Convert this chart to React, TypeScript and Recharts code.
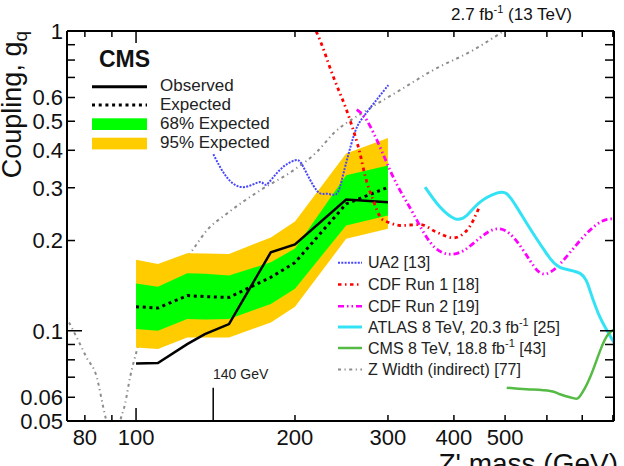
import React from "react";
import {
  ComposedChart,
  Area,
  Line,
  XAxis,
  YAxis,
  ReferenceLine,
} from "recharts";

// ---------------- data ----------------
const MASS = [100, 110, 125, 135, 150, 180, 200, 250, 300];
const OBSERVED = [0.0777, 0.0781, 0.0902, 0.0975, 0.1053, 0.1828, 0.194, 0.274, 0.2686];
const EXPECTED = [0.1203, 0.1191, 0.131, 0.13, 0.1292, 0.1508, 0.1688, 0.265, 0.301];
const BAND68_LO = [0.1013, 0.1, 0.1094, 0.109, 0.1094, 0.1229, 0.1382, 0.2245, 0.2424];
const BAND68_HI = [0.1439, 0.1403, 0.1554, 0.155, 0.1528, 0.1692, 0.188, 0.33, 0.356];
const BAND95_LO = [0.0879, 0.0869, 0.095, 0.095, 0.095, 0.1066, 0.1203, 0.2026, 0.2188];
const BAND95_HI = [0.1724, 0.167, 0.1814, 0.181, 0.1805, 0.2047, 0.2315, 0.39, 0.44];

const UA2_MASS = [140.1, 148.5, 159.7, 171.7, 176.8, 187.4, 200.1, 207.5, 219.9, 229.7, 239.9, 247, 258, 269.5, 300.5];
const UA2_G = [0.388, 0.3256, 0.3014, 0.3133, 0.3078, 0.3447, 0.3703, 0.3517, 0.2938, 0.2865, 0.2865, 0.3342, 0.443, 0.517, 0.66];

const CDF1_MASS = [214, 219.2, 236.4, 254.3, 265.6, 271.4, 281.4, 292, 302.8, 316.2, 345.1, 371.1, 399, 423, 448.3];
const CDF1_G = [1.08, 1.0, 0.7035, 0.504, 0.39, 0.33, 0.272, 0.236, 0.229, 0.2245, 0.2262, 0.2132, 0.2042, 0.216, 0.262];

const CDF2_MASS = [261.8, 273.5, 289.8, 302.8, 316.2, 335.1, 360.5, 387.6, 416.8, 448.3, 482.1, 518.3, 557.5, 590.8, 635.3, 693.4, 756.6, 807.7];
const CDF2_G = [0.547, 0.504, 0.41, 0.343, 0.294, 0.2457, 0.1974, 0.1805, 0.185, 0.2042, 0.2188, 0.2051, 0.1714, 0.1547, 0.167, 0.2, 0.2302, 0.2363];

const ATLAS_MASS = [352.7, 376.5, 402.1, 423, 448.3, 482.1, 503.6, 526, 565.6, 599.6, 635.3, 693.4, 724.1, 756.6, 807.7];
const ATLAS_G = [0.3014, 0.2585, 0.2363, 0.2424, 0.2686, 0.2879, 0.2866, 0.2585, 0.2106, 0.1805, 0.1628, 0.1554, 0.1361, 0.1108, 0.0902];

const CMS8_MASS = [503.6, 549.5, 608.3, 635.3, 673.2, 693.4, 724.1, 756.6, 784.4, 807.7];
const CMS8_G = [0.0646, 0.0638, 0.063, 0.0614, 0.0596, 0.0606, 0.0698, 0.0857, 0.0975, 0.1013];

const ZW_MASS = [73, 74.1, 77.2, 80.6, 84.3, 86.7, 88.5, 90, 92, 93.3, 95.3, 97.4, 100.3, 110, 120, 128.4, 136.1, 148.5, 171.7, 198.6, 219.9, 236.4, 273.5, 316.2, 365.7, 435.4, 489.2, 510];
const ZW_G = [0.115, 0.1094, 0.095, 0.0814, 0.0698, 0.0554, 0.047, 0.04, 0.045, 0.05, 0.0569, 0.0698, 0.0857, 0.125, 0.16, 0.1876, 0.216, 0.2457, 0.2938, 0.3428, 0.3947, 0.4548, 0.544, 0.635, 0.741, 0.864, 0.982, 1.03];

const X_TICKS = [80, 90, 100, 200, 300, 400, 500, 600, 700, 800];
const X_LABELS = [80, 100, 200, 300, 400, 500];
const Y_TICKS = [0.05, 0.06, 0.07, 0.08, 0.09, 0.1, 0.2, 0.3, 0.4, 0.5, 0.6, 0.7, 0.8, 0.9, 1];
const Y_LABELS = [0.05, 0.06, 0.1, 0.2, 0.3, 0.4, 0.5, 0.6, 1];
const X_DOMAIN = [74, 804];
const Y_DOMAIN = [0.05, 1];
const MARKER_MASS = 140;

// ---------------- styles ----------------
const FONT = "'Liberation Sans', Arial, Helvetica, sans-serif";
const C_YELLOW = "#ffcc00";
const C_GREEN = "#00ff00";
const C_UA2 = "#4646ff";
const C_CDF1 = "#ff0000";
const C_CDF2 = "#ff00ff";
const C_ATLAS = "#33e3f5";
const C_CMS8 = "#55bb44";
const C_ZW = "#8c8c8c";

const DASH_EXP = "3 3.7";
const DASH_UA2 = "2 1.3";
const DASH_CDF1 = "3.5 3.5 1.5 3.5";
const DASH_CDF2 = "6 3 1.5 3 1.5 3";
const DASH_ZW = "3 3.5 1.2 3.5";

const bandRows = MASS.map((m, i) => ({
  m,
  obs: OBSERVED[i],
  exp: EXPECTED[i],
  lo68: BAND68_LO[i],
  hi68: BAND68_HI[i],
  lo95: BAND95_LO[i],
  hi95: BAND95_HI[i],
}));

const toRows = (ms: number[], gs: number[]) => ms.map((m, i) => ({ m, g: gs[i] }));

// ---------------- tick renderers ----------------
const BottomTick = (props: any) => {
  const { x, y, payload } = props;
  const v = payload.value;
  const len = v === 100 ? 13 : 6;
  return (
    <g>
      <line x1={x} x2={x} y1={y} y2={y - len} stroke="#000" strokeWidth={1.5} />
      {X_LABELS.includes(v) && (
        <text x={x} y={y + 24} textAnchor="middle" fontSize={22} fontFamily={FONT} fill="#111">
          {v}
        </text>
      )}
    </g>
  );
};

const TopTick = (props: any) => {
  const { x, y, payload } = props;
  const v = payload.value;
  const len = v === 100 ? 12 : 6;
  return <line x1={x} x2={x} y1={y} y2={y + len} stroke="#000" strokeWidth={1.5} />;
};

const LeftTick = (props: any) => {
  const { x, y, payload } = props;
  const v = payload.value;
  const len = v === 0.1 || v === 1 ? 15 : 8;
  return (
    <g>
      <line x1={x} x2={x + len} y1={y} y2={y} stroke="#000" strokeWidth={1.5} />
      {Y_LABELS.includes(v) && (
        <text x={x - 4} y={y} dy="0.36em" textAnchor="end" fontSize={22} fontFamily={FONT} fill="#111">
          {v}
        </text>
      )}
    </g>
  );
};

const RightTick = (props: any) => {
  const { x, y, payload } = props;
  const v = payload.value;
  const len = v === 0.1 || v === 1 ? 14 : 9;
  return <line x1={x} x2={x - len} y1={y} y2={y} stroke="#000" strokeWidth={1.5} />;
};

// ---------------- overlay (legends and titles) ----------------
const Overlay = () => {
  const leg2 = [
    { y: 268.3, color: C_UA2, dash: DASH_UA2, w: 2, label: <>UA2 [13]</> },
    { y: 290, color: C_CDF1, dash: DASH_CDF1, w: 2.5, label: <>CDF Run 1 [18]</> },
    { y: 311.7, color: C_CDF2, dash: DASH_CDF2, w: 2.5, label: <>CDF Run 2 [19]</> },
    {
      y: 332.5,
      color: C_ATLAS,
      dash: undefined,
      w: 3,
      label: (
        <>
          ATLAS 8 TeV, 20.3 fb<tspan dy={-7} fontSize={11}>-1</tspan>
          <tspan dy={7}> [25]</tspan>
        </>
      ),
    },
    {
      y: 353.5,
      color: C_CMS8,
      dash: undefined,
      w: 2.5,
      label: (
        <>
          CMS 8 TeV, 18.8 fb<tspan dy={-7} fontSize={11}>-1</tspan>
          <tspan dy={7}> [43]</tspan>
        </>
      ),
    },
    { y: 375, color: C_ZW, dash: DASH_ZW, w: 2, label: <>Z Width (indirect) [77]</> },
  ];
  return (
    <svg
      width={624}
      height={466}
      style={{ position: "absolute", left: 0, top: 0, pointerEvents: "none" }}
      fontFamily={FONT}
    >
      {/* top-right luminosity label */}
      <text x={572} y={20} textAnchor="end" fontSize={17} fill="#111">
        2.7 fb<tspan dy={-7} fontSize={11}>-1</tspan>
        <tspan dy={7}> (13 TeV)</tspan>
      </text>

      {/* y title */}
      <text transform="rotate(-90)" x={-31} y={21} textAnchor="end" fontSize={27} fill="#111">
        Coupling, g<tspan dy={6} fontSize={19}>q</tspan>
      </text>

      {/* x title (cut by the lower edge, as in the reference) */}
      <text x={618} y={473} textAnchor="end" fontSize={28} fill="#111">
        Z' mass (GeV)
      </text>

      {/* CMS + legend 1 */}
      <text x={99} y={66.7} fontSize={23} fontWeight="bold" fill="#111">
        CMS
      </text>
      <line x1={92} x2={147} y1={86.7} y2={86.7} stroke="#000" strokeWidth={3} />
      <text x={160} y={90.7} fontSize={17} fill="#222">Observed</text>
      <line x1={92} x2={147} y1={105} y2={105} stroke="#000" strokeWidth={3} strokeDasharray={DASH_EXP} />
      <text x={160} y={109.6} fontSize={17} fill="#222">Expected</text>
      <rect x={92} y={118.3} width={55} height={11.7} fill={C_GREEN} />
      <text x={160} y={129} fontSize={17} fill="#222">68% Expected</text>
      <rect x={92} y={137.7} width={55} height={11.7} fill={C_YELLOW} />
      <text x={160} y={148.3} fontSize={17} fill="#222">95% Expected</text>

      {/* legend 2 */}
      {leg2.map((e, i) => (
        <g key={i}>
          <line
            x1={338}
            x2={362}
            y1={e.y - 5.5}
            y2={e.y - 5.5}
            stroke={e.color}
            strokeWidth={e.w}
            strokeDasharray={e.dash}
          />
          <text x={368} y={e.y} fontSize={16} fill="#222">
            {e.label}
          </text>
        </g>
      ))}

      {/* marker label */}
      <text x={213} y={379.3} fontSize={14} fill="#222">
        140 GeV
      </text>
    </svg>
  );
};

export default function App() {
  return (
    <div style={{ position: "absolute", left: 0, top: 0, width: 624, height: 466, background: "#fff" }}>
      <ComposedChart
        width={624}
        height={466}
        data={bandRows}
        margin={{ top: 0, right: 0, bottom: 0, left: 0 }}
        style={{ fontFamily: FONT }}
      >
        <XAxis
          xAxisId={0}
          dataKey="m"
          type="number"
          scale="log"
          domain={X_DOMAIN}
          allowDataOverflow
          ticks={X_TICKS}
          interval={0}
          tick={<BottomTick />}
          tickLine={false}
          tickSize={0}
          tickMargin={0}
          height={45}
          axisLine={{ stroke: "#000", strokeWidth: 2 }}
        />
        <XAxis
          xAxisId="top"
          orientation="top"
          dataKey="m"
          type="number"
          scale="log"
          domain={X_DOMAIN}
          allowDataOverflow
          ticks={X_TICKS}
          interval={0}
          tick={<TopTick />}
          tickLine={false}
          tickSize={0}
          tickMargin={0}
          height={31}
          axisLine={{ stroke: "#000", strokeWidth: 2 }}
        />
        <YAxis
          yAxisId={0}
          type="number"
          scale="log"
          domain={Y_DOMAIN}
          allowDataOverflow
          ticks={Y_TICKS}
          interval={0}
          tick={<LeftTick />}
          tickLine={false}
          tickSize={0}
          tickMargin={0}
          width={67}
          axisLine={{ stroke: "#000", strokeWidth: 2 }}
        />
        <YAxis
          yAxisId="right"
          orientation="right"
          type="number"
          scale="log"
          domain={Y_DOMAIN}
          allowDataOverflow
          ticks={Y_TICKS}
          interval={0}
          tick={<RightTick />}
          tickLine={false}
          tickSize={0}
          tickMargin={0}
          width={10}
          axisLine={{ stroke: "#000", strokeWidth: 2 }}
        />

        <Line
          data={toRows(ZW_MASS, ZW_G)}
          dataKey="g"
          type="monotone"
          stroke={C_ZW}
          strokeWidth={2}
          strokeDasharray={DASH_ZW}
          dot={false}
          isAnimationActive={false}
          zIndex={50}
        />

        <Area
          dataKey={(d: any) => [d.lo95, d.hi95]}
          type="linear"
          stroke="none"
          fill={C_YELLOW}
          fillOpacity={1}
          isAnimationActive={false}
        />
        <Area
          dataKey={(d: any) => [d.lo68, d.hi68]}
          type="linear"
          stroke="none"
          fill={C_GREEN}
          fillOpacity={1}
          isAnimationActive={false}
        />
        <Line
          dataKey="obs"
          type="linear"
          stroke="#000"
          strokeWidth={2.5}
          dot={false}
          isAnimationActive={false}
        />
        <Line
          dataKey="exp"
          type="linear"
          stroke="#000"
          strokeWidth={3}
          strokeDasharray={DASH_EXP}
          dot={false}
          isAnimationActive={false}
        />

        <Line
          data={toRows(UA2_MASS, UA2_G)}
          dataKey="g"
          type="natural"
          stroke={C_UA2}
          strokeWidth={2}
          strokeDasharray={DASH_UA2}
          dot={false}
          isAnimationActive={false}
        />
        <Line
          data={toRows(CDF1_MASS, CDF1_G)}
          dataKey="g"
          type="monotone"
          stroke={C_CDF1}
          strokeWidth={2.8}
          strokeDasharray={DASH_CDF1}
          dot={false}
          isAnimationActive={false}
        />
        <Line
          data={toRows(CDF2_MASS, CDF2_G)}
          dataKey="g"
          type="natural"
          stroke={C_CDF2}
          strokeWidth={2.8}
          strokeDasharray={DASH_CDF2}
          dot={false}
          isAnimationActive={false}
        />
        <Line
          data={toRows(ATLAS_MASS, ATLAS_G)}
          dataKey="g"
          type="natural"
          stroke={C_ATLAS}
          strokeWidth={3}
          dot={false}
          isAnimationActive={false}
        />
        <Line
          data={toRows(CMS8_MASS, CMS8_G)}
          dataKey="g"
          type="natural"
          stroke={C_CMS8}
          strokeWidth={2.5}
          dot={false}
          isAnimationActive={false}
        />

        <ReferenceLine
          segment={[
            { x: MARKER_MASS, y: 0.05 },
            { x: MARKER_MASS, y: 0.0645 },
          ]}
          stroke="#000"
          strokeWidth={1.5}
        />
      </ComposedChart>
      <Overlay />
    </div>
  );
}
